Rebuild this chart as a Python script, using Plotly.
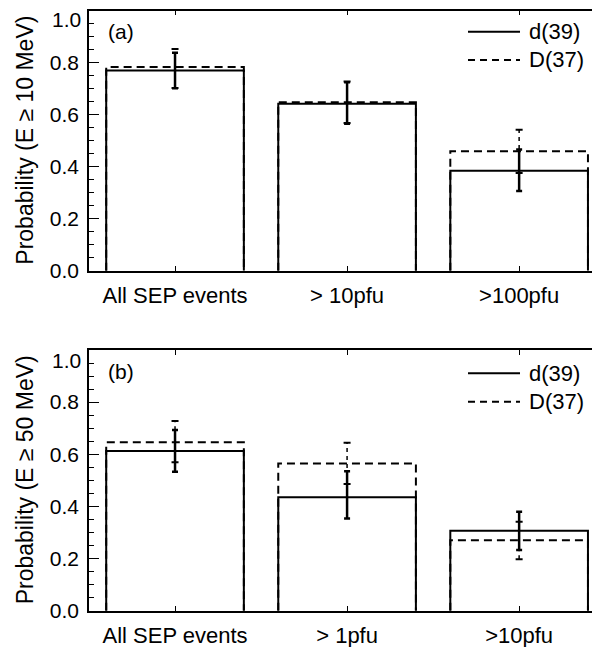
import plotly.graph_objects as go

categories_a = ["All SEP events", "> 10pfu", ">100pfu"]
categories_b = ["All SEP events", "> 1pfu", ">10pfu"]

# Panel (a): E >= 10 MeV
d_a = [0.770, 0.642, 0.384]
d_a_up = [0.068, 0.083, 0.082]
d_a_dn = [0.068, 0.077, 0.077]
D_a = [0.783, 0.648, 0.459]
D_a_up = [0.070, 0.080, 0.083]
D_a_dn = [0.080, 0.080, 0.083]

# Panel (b): E >= 50 MeV
d_b = [0.613, 0.435, 0.307]
d_b_up = [0.080, 0.100, 0.073]
d_b_dn = [0.080, 0.081, 0.074]
D_b = [0.646, 0.565, 0.270]
D_b_up = [0.082, 0.079, 0.071]
D_b_dn = [0.077, 0.079, 0.073]

name_d = "d(39)"
name_D = "D(37)"
ytitle_a = "Probability (E \u2265 10 MeV)"
ytitle_b = "Probability (E \u2265 50 MeV)"
panel_a = "(a)"
panel_b = "(b)"
y_ticks = [0.0, 0.2, 0.4, 0.6, 0.8]
y_top = 1.0

FONT = "Liberation Sans, Arial, sans-serif"
OFF = 8  # page body margin
W, H = 600 - OFF, 647 - OFF
HALF = 0.4
DASH = "8px,5px"


def px(x):
    return (x - OFF) / W


def py(y):
    return 1 - (y - OFF) / H


fig = go.Figure()


def outline(vals):
    xs, ys = [], []
    for i, v in enumerate(vals):
        xs += [i - HALF, i - HALF, i + HALF, i + HALF, None]
        ys += [0, v, v, 0, None]
    return xs, ys


def add_panel(d, d_up, d_dn, D, D_up, D_dn, xa, ya):
    xs, ys = outline(D)
    fig.add_trace(go.Scatter(x=xs, y=ys, mode="lines", name=name_D,
                             line=dict(color="black", width=2, dash=DASH),
                             xaxis=xa, yaxis=ya, showlegend=False,
                             hoverinfo="skip"))
    xs, ys = outline(d)
    fig.add_trace(go.Scatter(x=xs, y=ys, mode="lines", name=name_d,
                             line=dict(color="black", width=2),
                             xaxis=xa, yaxis=ya, showlegend=False,
                             hoverinfo="skip"))
    # dashed error bars for D
    ex, ey, cx, cy = [], [], [], []
    for i, v in enumerate(D):
        ex += [i, i, None]
        ey += [v - D_dn[i], v + D_up[i], None]
        cx += [i, i]
        cy += [v - D_dn[i], v + D_up[i]]
    fig.add_trace(go.Scatter(x=ex, y=ey, mode="lines", showlegend=False,
                             line=dict(color="black", width=1.5, dash="4px,4px"),
                             xaxis=xa, yaxis=ya, hoverinfo="skip"))
    fig.add_trace(go.Scatter(x=cx, y=cy, mode="markers", showlegend=False,
                             marker=dict(symbol="line-ew", size=5,
                                         line=dict(color="black", width=2)),
                             xaxis=xa, yaxis=ya, hoverinfo="skip"))
    # solid error bars for d
    fig.add_trace(go.Scatter(x=list(range(len(d))), y=d, mode="markers",
                             showlegend=False,
                             marker=dict(size=1, color="rgba(0,0,0,0)"),
                             error_y=dict(type="data", array=d_up,
                                          arrayminus=d_dn, symmetric=False,
                                          color="black", thickness=2.5, width=3),
                             xaxis=xa, yaxis=ya, hoverinfo="skip"))


add_panel(d_a, d_a_up, d_a_dn, D_a, D_a_up, D_a_dn, "x", "y")
add_panel(d_b, d_b_up, d_b_dn, D_b, D_b_up, D_b_dn, "x2", "y2")

# dummy traces for right-side tick stubs
fig.add_trace(go.Scatter(x=[None], y=[None], xaxis="x", yaxis="y3",
                         showlegend=False, hoverinfo="skip"))
fig.add_trace(go.Scatter(x=[None], y=[None], xaxis="x2", yaxis="y4",
                         showlegend=False, hoverinfo="skip"))

x0 = px(89)
dom_a = [py(270.7), py(10.7)]
dom_b = [py(610.7), py(350)]
XR = [-0.5, 2.47]

xcommon = dict(range=XR, showline=True, linecolor="black", linewidth=1.5,
               mirror="ticks", ticks="inside", ticklen=5, tickwidth=1.2,
               tickcolor="black", tickvals=[0, 1, 2], showgrid=False,
               zeroline=False, tickfont=dict(family=FONT, size=22, color="black"),
               ticklabelstandoff=4, fixedrange=True, automargin=False)
ycommon = dict(range=[0, 1.0], showline=True, linecolor="black", linewidth=1.5,
               ticks="inside", ticklen=10, tickwidth=1.2, tickcolor="black",
               tickvals=y_ticks + [y_top], ticktext=[f"{v:.1f}" for v in y_ticks] + [""],
               showgrid=False, zeroline=False,
               tickfont=dict(family=FONT, size=21, color="black"),
               minor=dict(dtick=0.05, ticklen=5, ticks="inside", tickcolor="black",
                          tickwidth=1.2, showgrid=False),
               ticklabelstandoff=4, ticklabeloverflow="allow",
               fixedrange=True, automargin=False)
yright = dict(range=[0, 1.0], side="right", anchor="free", position=1.0,
              showline=False, ticks="inside", ticklen=5, tickwidth=1.2,
              tickcolor="black", dtick=0.2, tick0=0, showticklabels=False,
              showgrid=False, zeroline=False, fixedrange=True, automargin=False)

# legend drawn as lines + labels (reference page pixel positions)
shapes = []
annotations = []
for (label, ytxt, ys_solid, ys_dash, ytop) in [
        (panel_a, 31.7, 31.7, 60.0, 19.0),
        (panel_b, 371.7, 373.3, 401.7, 360.0)]:
    shapes.append(dict(type="line", xref="paper", yref="paper",
                       x0=px(468), x1=px(520), y0=py(ys_solid), y1=py(ys_solid),
                       line=dict(color="black", width=2)))
    shapes.append(dict(type="line", xref="paper", yref="paper",
                       x0=px(468), x1=px(520), y0=py(ys_dash), y1=py(ys_dash),
                       line=dict(color="black", width=2, dash="7px,5px")))
    annotations.append(dict(text=name_d, x=px(527), y=py(ys_solid),
                            xref="paper", yref="paper", xanchor="left",
                            yanchor="middle", showarrow=False,
                            font=dict(family=FONT, size=22)))
    annotations.append(dict(text=name_D, x=px(527), y=py(ys_dash),
                            xref="paper", yref="paper", xanchor="left",
                            yanchor="middle", showarrow=False,
                            font=dict(family=FONT, size=22)))
    annotations.append(dict(text=label, x=px(106), y=py(ytxt),
                            xref="paper", yref="paper", xanchor="left",
                            yanchor="middle", showarrow=False,
                            font=dict(family=FONT, size=21)))
    # top tick label (drawn lower, as in the reference)
    annotations.append(dict(text=f"{y_top:.1f}", x=px(82.5), y=py(ytop),
                            xref="paper", yref="paper", xanchor="right",
                            yanchor="middle", showarrow=False,
                            font=dict(family=FONT, size=21)))

for title, dom in [(ytitle_a, dom_a), (ytitle_b, dom_b)]:
    annotations.append(dict(text=title, x=px(25), y=sum(dom) / 2,
                            xref="paper", yref="paper", xanchor="center",
                            yanchor="middle", textangle=-90, showarrow=False,
                            font=dict(family=FONT, size=23)))

fig.update_layout(
    width=W, height=H, autosize=False,
    margin=dict(l=0, r=0, t=0, b=0, autoexpand=False),
    paper_bgcolor="white", plot_bgcolor="white",
    font=dict(family=FONT, size=21, color="black"),
    xaxis=dict(xcommon, domain=[x0, 1], anchor="y", ticktext=categories_a),
    yaxis=dict(ycommon, domain=dom_a, anchor="x"),
    xaxis2=dict(xcommon, domain=[x0, 1], anchor="y2", ticktext=categories_b),
    yaxis2=dict(ycommon, domain=dom_b, anchor="x2"),
    yaxis3=dict(yright, overlaying="y"),
    yaxis4=dict(yright, overlaying="y2"),
    showlegend=False,
    shapes=shapes,
    annotations=annotations,
)

fig.write_html("out.html")
